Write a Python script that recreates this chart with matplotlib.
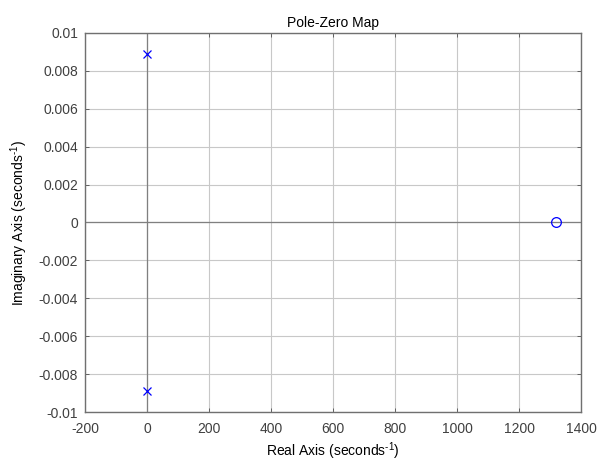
import matplotlib
matplotlib.use('Agg')
import matplotlib.pyplot as plt

plt.rcParams['font.family'] = ['Liberation Sans', 'DejaVu Sans']
plt.rcParams['axes.unicode_minus'] = False
plt.rcParams['mathtext.fontset'] = 'custom'
plt.rcParams['mathtext.rm'] = 'Liberation Sans'
plt.rcParams['mathtext.it'] = 'Liberation Sans'

# pole / zero locations (real, imag)
pole_re = [0.0, 0.0]
pole_im = [0.0089, -0.0089]
zero_re = [1320.0]
zero_im = [0.0]

xticks = [-200, 0, 200, 400, 600, 800, 1000, 1200, 1400]
yticks = [-0.01, -0.008, -0.006, -0.004, -0.002, 0, 0.002, 0.004, 0.006, 0.008, 0.01]
ytick_labels = ['-0.01', '-0.008', '-0.006', '-0.004', '-0.002', '0',
                '0.002', '0.004', '0.006', '0.008', '0.01']

fig = plt.figure(figsize=(5.98, 4.63), dpi=100)
ax = fig.add_axes([0.142, 0.110, 0.830, 0.819])

# zero lines
ax.axhline(0, color='#808080', linewidth=0.9, zorder=1)
ax.axvline(0, color='#808080', linewidth=0.9, zorder=1)

ax.plot(pole_re, pole_im, 'x', color='blue', markersize=6, markeredgewidth=0.9,
        linestyle='none', zorder=3)
ax.plot(zero_re, zero_im, 'o', color='blue', markerfacecolor='none',
        markersize=7, markeredgewidth=0.9, linestyle='none', zorder=3)

ax.set_xlim(-200, 1400)
ax.set_ylim(-0.01, 0.01)
ax.set_xticks(xticks)
ax.set_xticklabels([str(v) for v in xticks])
ax.set_yticks(yticks)
ax.set_yticklabels(ytick_labels)

ax.grid(True, color='#c8c8c8', linewidth=0.8, linestyle='-')
ax.set_axisbelow(True)
ax.tick_params(direction='in', length=3, width=0.6, colors='#505050',
               labelsize=10, top=True, right=True, labelcolor='#404040')
ax.tick_params(axis='x', pad=7)
ax.tick_params(axis='y', pad=5)
for s in ax.spines.values():
    s.set_color('#707070')
    s.set_linewidth(1.0)

ax.set_title('Pole-Zero Map', fontsize=10, pad=4)
ax.set_xlabel(r'Real Axis (seconds$^{\text{-1}}$)', fontsize=10, labelpad=3)
ax.set_ylabel(r'Imaginary Axis (seconds$^{\text{-1}}$)', fontsize=10, labelpad=6)

fig.savefig('out.png', dpi=100)
